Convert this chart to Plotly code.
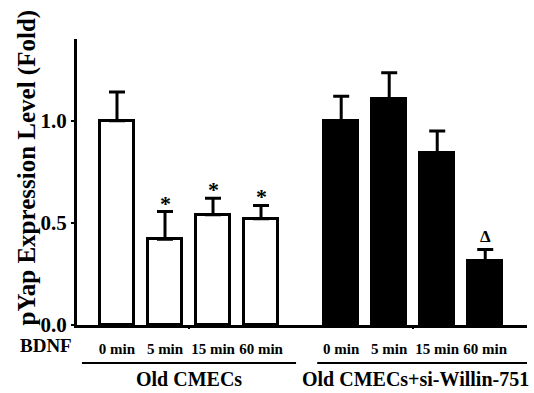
import plotly.graph_objects as go

# data
time_labels = ["0 min", "5 min", "15 min", "60 min"]
group_names = ["Old CMECs", "Old CMECs+si-Willin-751"]
old_vals = [1.00, 0.42, 0.54, 0.52]
old_err = [0.14, 0.135, 0.08, 0.065]
si_vals = [1.00, 1.105, 0.84, 0.315]
si_err = [0.12, 0.13, 0.11, 0.055]
old_marks = ["", "*", "*", "*"]
si_marks = ["", "", "", "Δ"]

FONT = "Liberation Serif"
pos_old = [1, 2, 3, 4]
pos_si = [5.67, 6.67, 7.67, 8.67]

fig = go.Figure()
fig.add_trace(go.Bar(
    x=pos_old, y=old_vals, width=0.71,
    marker=dict(color="white", line=dict(color="black", width=3)),
    error_y=dict(type="data", symmetric=False, array=old_err,
                 arrayminus=[0] * 4, color="black", thickness=3, width=8),
    showlegend=False))
fig.add_trace(go.Bar(
    x=pos_si, y=si_vals, width=0.71,
    marker=dict(color="black", line=dict(color="black", width=3)),
    error_y=dict(type="data", symmetric=False, array=si_err,
                 arrayminus=[0] * 4, color="black", thickness=3, width=8),
    showlegend=False))

# significance marks
for pos, vals, errs, marks in [(pos_old, old_vals, old_err, old_marks),
                               (pos_si, si_vals, si_err, si_marks)]:
    for p, v, e, m in zip(pos, vals, errs, marks):
        if m:
            fig.add_annotation(
                x=p, y=v + e, text=m, showarrow=False, yanchor="bottom",
                yshift=-6 if m == "*" else 1,
                font=dict(family=FONT, size=22 if m == "*" else 17,
                          color="black", weight="bold"))

# group lines and labels
group_spans = [(0.27, 4.73), (5.17, 9.58)]
for (a, b), name in zip(group_spans, group_names):
    fig.add_shape(type="line", xref="x", yref="paper", x0=a, x1=b,
                  y0=-0.133, y1=-0.133, line=dict(color="black", width=2))
for pos, name in [(pos_old, group_names[0]), (pos_si, group_names[1])]:
    fig.add_annotation(
        x=(pos[0] + pos[-1]) / 2 + (0.0 if name == group_names[0] else 0.05),
        xref="x", y=-0.188, yref="paper", text=name, showarrow=False,
        yanchor="middle", font=dict(family=FONT, size=20, color="black",
                                    weight="bold"))

fig.add_annotation(x=0, xref="paper", xshift=-31, y=-0.072, yref="paper",
                   text="BDNF", showarrow=False, xanchor="center",
                   yanchor="middle",
                   font=dict(family=FONT, size=19, color="black",
                             weight="bold"))

fig.add_annotation(x=0, xref="paper", xshift=-50, y=0.551, yref="paper",
                   text="pYap Expression Level (Fold)", showarrow=False,
                   textangle=-90, xanchor="center", yanchor="middle",
                   font=dict(family=FONT, size=25, color="black",
                             weight="bold"))

# invisible trace for group-centre tick marks axis
fig.add_trace(go.Scatter(x=[2.5, 7.17], y=[0, 0], xaxis="x2", mode="markers",
                         marker=dict(opacity=0), showlegend=False,
                         hoverinfo="skip"))

xr = [0.167, 9.54]
fig.update_layout(
    width=534, height=393,
    margin=dict(l=77, r=7, t=39, b=68),
    paper_bgcolor="white", plot_bgcolor="white",
    bargap=0,
    xaxis=dict(range=xr, tickvals=pos_old + pos_si,
               ticktext=time_labels + time_labels, ticks="",
               showline=True, linecolor="black", linewidth=3,
               showgrid=False, zeroline=False, ticklabelstandoff=8,
               tickfont=dict(family=FONT, size=15, color="black",
                             weight="bold")),
    xaxis2=dict(range=xr, overlaying="x", side="bottom", tickvals=[2.5, 7.17],
                showticklabels=False, ticks="outside", ticklen=3,
                tickwidth=2, tickcolor="black", showgrid=False,
                zeroline=False, showline=False),
    yaxis=dict(range=[0, 1.4], tickvals=[0, 0.5, 1.0],
               ticktext=["0.0", "0.5", "1.0"], ticks="outside", ticklen=3,
               tickwidth=2, tickcolor="black", showline=True,
               linecolor="black", linewidth=3, showgrid=False,
               zeroline=False, ticklabelstandoff=0,
               tickfont=dict(family=FONT, size=21, color="black",
                             weight="bold")),
)

fig.write_html("out.html", config={"displayModeBar": False},
               post_script="document.body.style.margin='0px';")
